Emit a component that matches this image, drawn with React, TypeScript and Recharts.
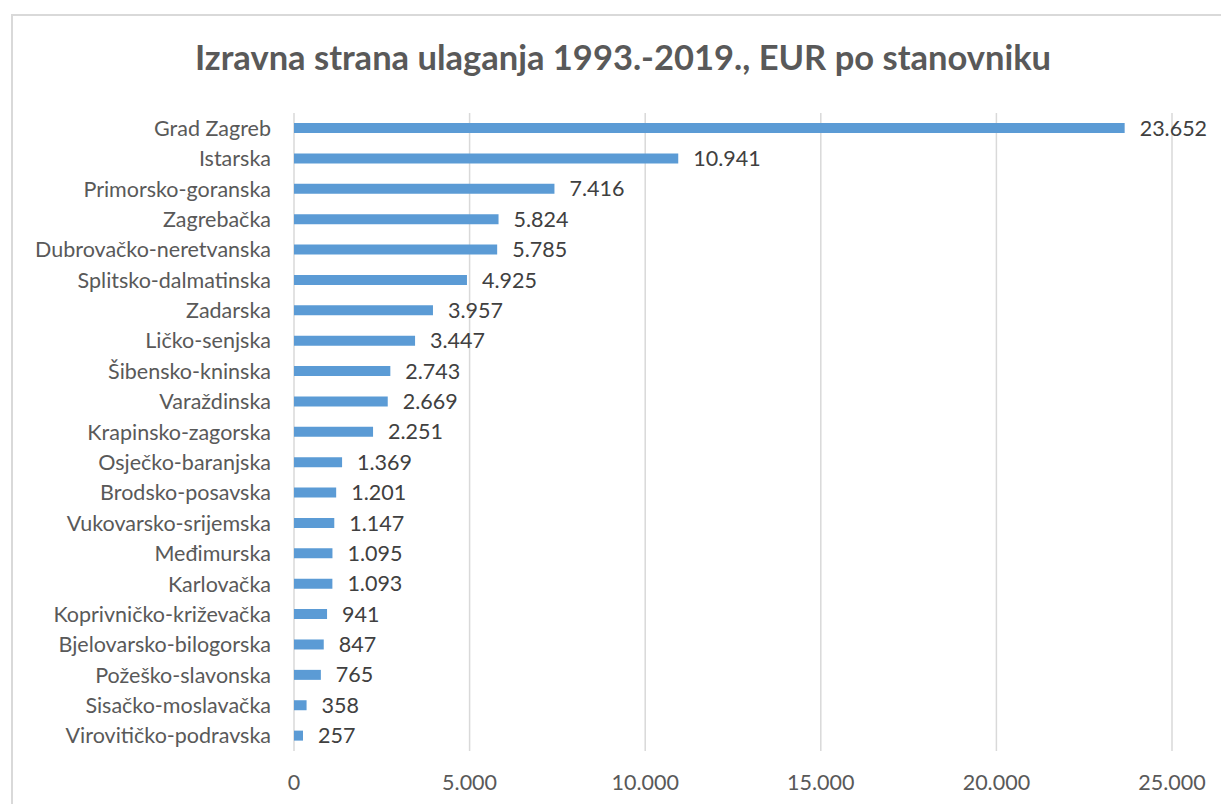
import React from 'react';
import { BarChart, Bar, XAxis, YAxis, CartesianGrid, LabelList } from 'recharts';

const counties = [
  'Grad Zagreb', 'Istarska', 'Primorsko-goranska', 'Zagrebačka', 'Dubrovačko-neretvanska',
  'Splitsko-dalmatinska', 'Zadarska', 'Ličko-senjska', 'Šibensko-kninska', 'Varaždinska',
  'Krapinsko-zagorska', 'Osječko-baranjska', 'Brodsko-posavska', 'Vukovarsko-srijemska',
  'Međimurska', 'Karlovačka', 'Koprivničko-križevačka', 'Bjelovarsko-bilogorska',
  'Požeško-slavonska', 'Sisačko-moslavačka', 'Virovitičko-podravska',
];
const values = [23652, 10941, 7416, 5824, 5785, 4925, 3957, 3447, 2743, 2669, 2251, 1369, 1201, 1147, 1095, 1093, 941, 847, 765, 358, 257];
const xTicks = [0, 5000, 10000, 15000, 20000, 25000];
const title = 'Izravna strana ulaganja 1993.-2019., EUR po stanovniku';

const data = counties.map((name, i) => ({ name, value: values[i] }));
const fmt = (v: number) => String(v).replace(/\B(?=(\d{3})+(?!\d))/g, '.');
const FONT = 'Lato, "Open Sans", sans-serif';
const FS = 21.5;

export default function App() {
  return (
    <div style={{ position: 'absolute', left: 0, top: 0, width: 1221, height: 804, background: '#fff', overflow: 'hidden' }}>
      <div style={{ position: 'absolute', left: 11, top: 14, width: 1215, height: 795, borderLeft: '2px solid #d9d9d9', borderTop: '2px solid #d9d9d9' }} />
      <div style={{ position: 'absolute', left: 0, top: 35, width: 1246, textAlign: 'center', fontFamily: FONT, fontWeight: 700, fontSize: 34.5, color: '#595959', lineHeight: '44px' }}>
        {title}
      </div>
      <div style={{ position: 'absolute', left: 0, top: 0 }}>
        <BarChart width={1221} height={804} data={data} layout="vertical" margin={{ top: 113, right: 49, bottom: 20, left: 0 }} barCategoryGap={0}>
          <CartesianGrid horizontal={false} stroke="#d9d9d9" strokeWidth={1.5} />
          <XAxis type="number" domain={[0, 25000]} ticks={xTicks} tickFormatter={fmt} axisLine={false} tickLine={false} tickSize={0} tickMargin={24} height={33} interval={0}
            tick={{ fill: '#595959', fontSize: FS, fontFamily: FONT }} />
          <YAxis type="category" dataKey="name" width={294} axisLine={false} tickLine={false} tickSize={0} tickMargin={23} interval={0}
            tick={{ fill: '#595959', fontSize: FS, fontFamily: FONT }} />
          <Bar dataKey="value" fill="#5b9bd5" barSize={10} isAnimationActive={false}>
            <LabelList dataKey="value" position="right" offset={15} formatter={(v: any) => fmt(Number(v))}
              style={{ fill: '#404040', fontSize: FS, fontFamily: FONT }} />
          </Bar>
        </BarChart>
      </div>
    </div>
  );
}
